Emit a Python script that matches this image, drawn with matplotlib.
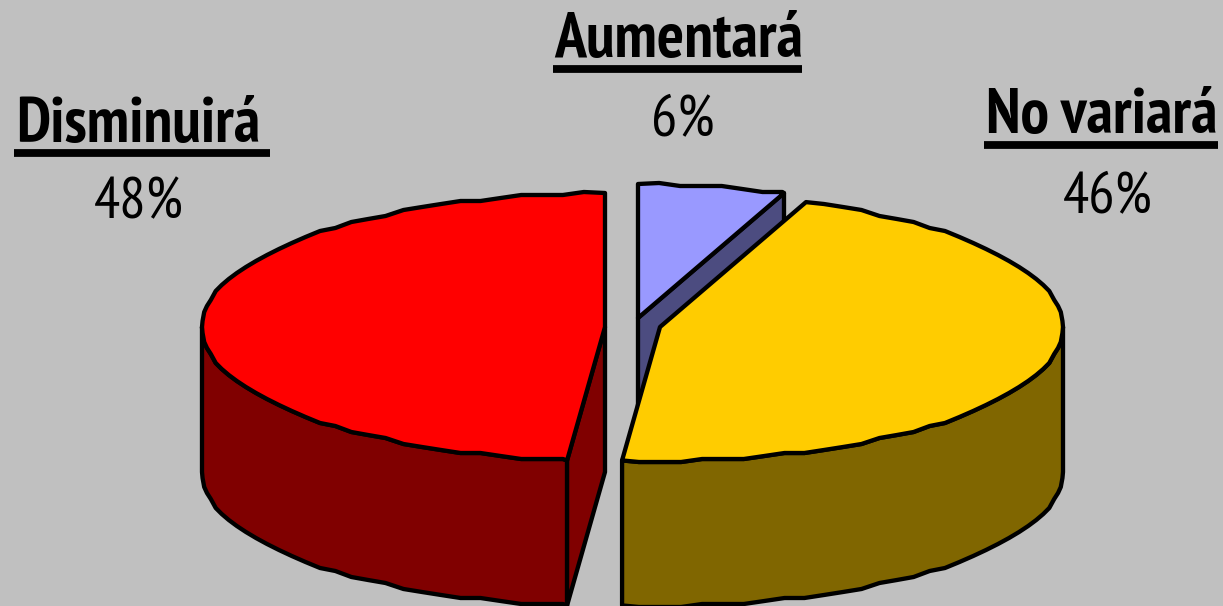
import matplotlib.pyplot as plt
import numpy as np
from matplotlib.patches import Polygon

# valores
categories = ['Aumentará', 'No variará', 'Disminuirá']
shares = [5.9, 45.6, 48.5]

top_colors = ['#9999FF', '#FFCC00', '#FF0000']
side_colors = ['#4C4C80', '#806600', '#800000']

plt.rcParams['font.family'] = ['PT Sans Narrow', 'Liberation Sans', 'DejaVu Sans']

W, H = 1223, 606
A, B = 403, 134   # semiejes de la elipse
DEPTH = 145
LW = 3.1
BG = '#C0C0C0'
# centro de cada porcion (separadas)
centers = [(638, 318), (660, 327), (605, 327)]


def rim(center, a0, a1, step=3.0, snap=3.0):
    # borde de la elipse de a0 a a1 (a0 > a1), con escalones como el original
    inner = np.arange(np.floor(a0 / step) * step, a1, -step)
    inner = inner[(inner < a0) & (inner > a1)]
    t = np.radians(np.concatenate([[a0], inner, [a1]]))
    x = center[0] + A * np.cos(t)
    y = center[1] - B * np.sin(t)
    y[1:-1] = np.round(y[1:-1] / snap) * snap
    return np.column_stack([x, y])


def poly(ax, pts, color, z):
    ax.add_patch(Polygon(pts, closed=True, fc=color, ec='black', lw=LW,
                         joinstyle='round', zorder=z))


fig = plt.figure(figsize=(W / 100, H / 100), dpi=100, facecolor=BG)
ax = fig.add_axes([0, 0, 1, 1])
ax.set_xlim(0, W)
ax.set_ylim(H, 0)
ax.axis('off')

# angulos desde las 12 en sentido horario
ends = 90 - np.cumsum(shares) * 3.6
starts = np.concatenate([[90], ends[:-1]])
down = np.array([0, DEPTH])

# Aumentará: solo se ve la cara del corte
c = np.array(centers[0])
edge = rim(c, starts[0], ends[0])
poly(ax, [c, edge[-1], edge[-1] + down, c + down], side_colors[0], 1)
poly(ax, np.vstack([[c], edge]), top_colors[0], 2)

# No variará
c = np.array(centers[1])
edge = rim(c, starts[1], ends[1])
wall = rim(c, 0, ends[1])
poly(ax, np.vstack([wall, (wall + down)[::-1]]), side_colors[1], 3)
poly(ax, np.vstack([[c], edge]), top_colors[1], 4)

# Disminuirá: va de las 12 hacia la izquierda hasta el corte inferior
c = np.array(centers[2])
low = ends[1] + 360
wall = rim(c, low, 180)
poly(ax, np.vstack([wall, (wall + down)[::-1]]), side_colors[2], 3)
tip = wall[0]
poly(ax, [c, tip, tip + down, c + down], side_colors[2], 3)
poly(ax, np.vstack([[c], rim(c, low, 90)]), top_colors[2], 4)

# rotulos
head_x = [554, 986, 16]
head_y = [57, 133, 142]
line_x = [(553, 802), (984, 1218), (14, 270)]
line_y = [68.5, 145, 153]
pct_x = [683, 1108, 139]
pct_y = [135, 212, 218]
for i, name in enumerate(categories):
    ax.text(head_x[i], head_y[i], name, fontsize=46, fontweight='bold',
            ha='left', va='baseline', color='black')
    ax.plot(line_x[i], [line_y[i]] * 2, color='black', lw=5.6, solid_capstyle='butt')
    ax.text(pct_x[i], pct_y[i], f'{shares[i]:.0f}%', fontsize=42,
            ha='center', va='baseline', color='black')

fig.savefig('out.png', dpi=100, facecolor=BG)
